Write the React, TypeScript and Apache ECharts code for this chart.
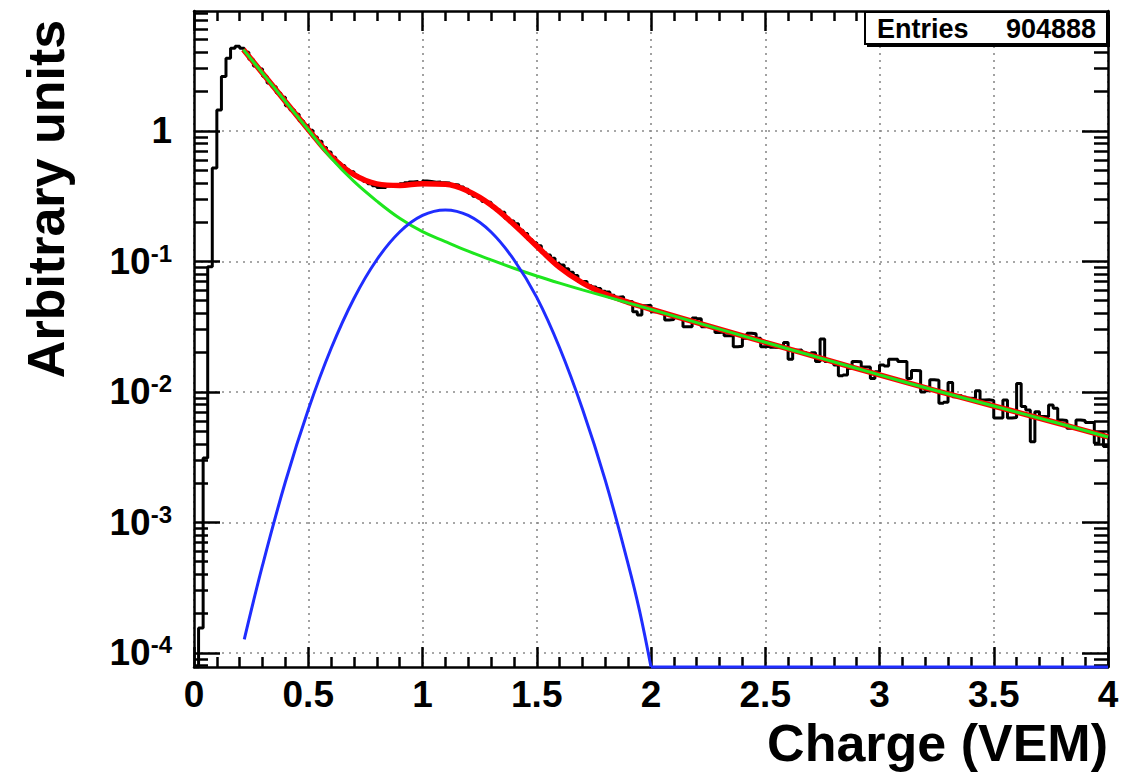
import React, { useEffect, useRef } from 'react';
import * as echarts from 'echarts';

// ---- axis ranges ----
const X_MIN = 0;
const X_MAX = 4;
const Y_MIN = 7.8e-5;
const Y_MAX = 8.3;
const BIN_WIDTH = 0.02;

// ---- histogram contents (200 bins of 0.02 VEM) ----
const HIST = [
  7.8e-5, 1.55e-4, 3.12e-3, 0.091, 0.52, 1.45, 2.61, 3.61, 4.30, 4.45,
  4.30, 4.01, 3.55, 3.14, 2.98, 2.63, 2.33, 2.18, 1.95, 1.81,
  1.56, 1.45, 1.34, 1.19, 1.10, 1.01, 0.899, 0.832, 0.745, 0.690,
  0.629, 0.571, 0.543, 0.502, 0.486, 0.454, 0.433, 0.412, 0.394, 0.380,
  0.369, 0.369, 0.378, 0.385, 0.389, 0.394, 0.401, 0.407, 0.409, 0.403,
  0.413, 0.409, 0.405, 0.407, 0.400, 0.399, 0.388, 0.386, 0.372, 0.357,
  0.333, 0.316, 0.307, 0.288, 0.284, 0.262, 0.248, 0.238, 0.214, 0.204,
  0.194, 0.173, 0.164, 0.147, 0.139, 0.132, 0.117, 0.112, 0.106, 0.0966,
  0.0940, 0.0877, 0.0828, 0.0780, 0.0702, 0.0702, 0.0650, 0.0638, 0.0621, 0.0590,
  0.0582, 0.0550, 0.0531, 0.0537, 0.0495, 0.0490, 0.0412, 0.0389, 0.0457, 0.0462,
  0.0412, 0.0417, 0.0407, 0.0356, 0.0359, 0.0378, 0.0372, 0.0316, 0.0316, 0.0369,
  0.0363, 0.0316, 0.0320, 0.0313, 0.0285, 0.0288, 0.0269, 0.0269, 0.0222, 0.0224,
  0.0258, 0.0282, 0.0279, 0.0258, 0.0222, 0.0224, 0.0220, 0.0219, 0.0221, 0.0239,
  0.0178, 0.0209, 0.0210, 0.0200, 0.0197, 0.0200, 0.0171, 0.0254, 0.0171, 0.0170,
  0.0161, 0.0133, 0.0135, 0.0152, 0.0171, 0.0170, 0.0155, 0.0155, 0.0127, 0.0143,
  0.0161, 0.0158, 0.0178, 0.0178, 0.0171, 0.0171, 0.0127, 0.0146, 0.0145, 0.0100,
  0.0102, 0.0124, 0.0123, 0.00818, 0.00832, 0.0118, 0.00920, 0.00933, 0.00912, 0.00895,
  0.00891, 0.0102, 0.00869, 0.00871, 0.00861, 0.00631, 0.00631, 0.00869, 0.00631, 0.00638,
  0.0116, 0.00773, 0.00728, 0.00416, 0.00706, 0.00647, 0.00646, 0.00794, 0.00750, 0.00610,
  0.00603, 0.00527, 0.00525, 0.00610, 0.00603, 0.00582, 0.00582, 0.00405, 0.00482, 0.00381,
];

// ---- background fit (green) ----
const GREEN_X = [0.216, 0.3, 0.4, 0.5, 0.6, 0.7, 0.8, 0.9, 1.0, 1.1, 1.2, 1.3, 1.4, 1.5, 1.6, 1.7, 1.8, 1.9, 2.0, 2.25, 2.5, 2.75, 3.0, 3.25, 3.5, 3.75, 4.0];
const GREEN_Y = [4.2, 2.77, 1.68, 1.02, 0.62, 0.41, 0.29, 0.214, 0.169, 0.142, 0.120, 0.1028, 0.0887, 0.0774, 0.0682, 0.0605, 0.0540, 0.0481, 0.0429, 0.0321, 0.0240, 0.0180, 0.0135, 0.0102, 0.0078, 0.00596, 0.00452];

// ---- total fit (red) ----
const RED_X = [0.216, 0.3, 0.4, 0.5, 0.6, 0.7, 0.8, 0.9, 1.0, 1.1, 1.2, 1.3, 1.4, 1.5, 1.6, 1.7, 1.8, 1.9, 2.0, 2.25, 2.5, 2.75, 3.0, 3.25, 3.5, 3.75, 4.0];
const RED_Y = [4.2, 2.77, 1.682, 1.027, 0.641, 0.462, 0.393, 0.382, 0.394, 0.390, 0.345, 0.271, 0.192, 0.131, 0.090, 0.0685, 0.0562, 0.0486, 0.0430, 0.0321, 0.0240, 0.0180, 0.0135, 0.0102, 0.0078, 0.00596, 0.00452];

// ---- muon peak (blue) ----
const BLUE_X = [0.22, 0.3, 0.4, 0.5, 0.6, 0.7, 0.8, 0.9, 1.0, 1.1, 1.2, 1.3, 1.4, 1.5, 1.6, 1.7, 1.8, 1.9, 1.95, 2.0];
const BLUE_Y = [1.27e-4, 4.7e-4, 2.05e-3, 7.3e-3, 0.0215, 0.052, 0.103, 0.168, 0.225, 0.248, 0.225, 0.168, 0.103, 0.053, 0.0218, 0.0074, 2.1e-3, 4.8e-4, 2.1e-4, 7.8e-5];
const BLUE_FLOOR_X = [2.0, 4.0];
const BLUE_FLOOR_Y = [7.8e-5, 7.8e-5];

const Y_MAJOR = [1e-4, 1e-3, 1e-2, 1e-1, 1];
const ENTRIES_LABEL = 'Entries';
const ENTRIES_VALUE = '904888';
const X_TITLE = 'Charge (VEM)';
const Y_TITLE = 'Arbitrary units';

const FONT = '"Liberation Sans", Arial, Helvetica, sans-serif';

function yMinorValues(): number[] {
  const out: number[] = [];
  for (let e = -5; e <= 0; e++) {
    for (let m = 2; m <= 9; m++) {
      const v = m * Math.pow(10, e);
      if (v > Y_MIN && v < Y_MAX) out.push(v);
    }
  }
  return out;
}

export default function App() {
  const ref = useRef<HTMLDivElement>(null);

  useEffect(() => {
    if (!ref.current) return;
    const chart = echarts.init(ref.current, undefined, { renderer: 'svg' });

    const histData: number[][] = HIST.map((v, i) => [X_MIN + i * BIN_WIDTH, v]);
    histData.push([X_MAX, HIST[HIST.length - 1]]);

    const pairs = (xs: number[], ys: number[]) => xs.map((x, i) => [x, ys[i]]);

    const gridLine = { show: true, lineStyle: { color: '#8a8a8a', width: 1.6, type: [2, 5] as any } };
    const minor = yMinorValues();

    const baseX = {
      type: 'value' as const,
      min: X_MIN,
      max: X_MAX,
      interval: 0.5,
      axisLine: { show: true, onZero: false, lineStyle: { color: '#000', width: 2.5 } },
      axisTick: { show: true, inside: true, length: 20, lineStyle: { color: '#000', width: 2.5 } },
      minorTick: { show: true, splitNumber: 5, length: 10, lineStyle: { color: '#000', width: 2.5 } },
    };

    const baseY = {
      type: 'log' as const,
      logBase: 10,
      min: Y_MIN,
      max: Y_MAX,
    };

    chart.setOption({
      animation: false,
      backgroundColor: '#ffffff',
      grid: { left: 194, top: 11, width: 914, height: 656, containLabel: false },
      xAxis: [
        {
          ...baseX,
          position: 'bottom',
          axisLabel: {
            show: true,
            margin: 9,
            color: '#000',
            fontFamily: FONT,
            fontWeight: 'bold',
            fontSize: 37,
            formatter: (v: number) => String(v),
          },
          splitLine: gridLine,
        },
        {
          ...baseX,
          position: 'top',
          axisLabel: { show: false },
          splitLine: { show: false },
        },
      ],
      yAxis: [
        {
          ...baseY,
          position: 'left',
          axisLine: { show: true, lineStyle: { color: '#000', width: 2.5 } },
          axisTick: { show: true, inside: true, length: 26, customValues: Y_MAJOR, lineStyle: { color: '#000', width: 2.5 } },
          axisLabel: {
            show: true,
            customValues: Y_MAJOR,
            margin: 22,
            color: '#000',
            fontFamily: FONT,
            fontWeight: 'bold',
            fontSize: 37,
            formatter: (v: number) => {
              const e = Math.round(Math.log10(v));
              return e === 0 ? '{base|1}' : `{base|10}{sup|${e}}`;
            },
            rich: {
              base: { fontFamily: FONT, fontWeight: 'bold', fontSize: 37, lineHeight: 40, color: '#000' },
              sup: { fontFamily: FONT, fontWeight: 'bold', fontSize: 24, lineHeight: 24, verticalAlign: 'top', color: '#000' },
            },
          },
          splitLine: gridLine,
        },
        {
          ...baseY,
          position: 'left',
          axisLine: { show: false },
          axisTick: { show: true, inside: true, length: 14, customValues: minor, lineStyle: { color: '#000', width: 2.5 } },
          axisLabel: { show: false },
          splitLine: { show: false },
        },
        {
          ...baseY,
          position: 'right',
          axisLine: { show: true, lineStyle: { color: '#000', width: 2.5 } },
          axisTick: { show: true, inside: true, length: 26, customValues: Y_MAJOR, lineStyle: { color: '#000', width: 2.5 } },
          axisLabel: { show: false },
          splitLine: { show: false },
        },
        {
          ...baseY,
          position: 'right',
          axisLine: { show: false },
          axisTick: { show: true, inside: true, length: 14, customValues: minor, lineStyle: { color: '#000', width: 2.5 } },
          axisLabel: { show: false },
          splitLine: { show: false },
        },
      ],
      series: [
        {
          name: 'histogram',
          type: 'line',
          step: 'end',
          data: histData,
          xAxisIndex: 0,
          yAxisIndex: 0,
          symbol: 'none',
          lineStyle: { color: '#000', width: 3 },
          z: 2,
        },
        {
          name: 'total fit',
          type: 'line',
          smooth: 0.4,
          data: pairs(RED_X, RED_Y),
          symbol: 'none',
          lineStyle: { color: '#ff0000', width: 5.5 },
          z: 3,
        },
        {
          name: 'background',
          type: 'line',
          smooth: 0.4,
          data: pairs(GREEN_X, GREEN_Y),
          symbol: 'none',
          lineStyle: { color: '#1ee61e', width: 3 },
          z: 4,
        },
        {
          name: 'muon peak',
          type: 'line',
          smooth: 0.4,
          data: pairs(BLUE_X, BLUE_Y),
          symbol: 'none',
          lineStyle: { color: '#1f2dff', width: 3 },
          z: 5,
        },
        {
          name: 'muon peak floor',
          type: 'line',
          clip: false,
          data: pairs(BLUE_FLOOR_X, BLUE_FLOOR_Y),
          symbol: 'none',
          lineStyle: { color: '#1f2dff', width: 3 },
          z: 5,
        },
      ],
      graphic: [
        {
          type: 'text',
          x: 46,
          y: 199,
          rotation: Math.PI / 2,
          style: {
            text: Y_TITLE,
            font: `bold 52px ${FONT}`,
            fill: '#000',
            textAlign: 'center',
            textVerticalAlign: 'middle',
          },
        },
        {
          type: 'text',
          x: 1108,
          y: 743,
          style: {
            text: X_TITLE,
            font: `bold 52px ${FONT}`,
            fill: '#000',
            textAlign: 'right',
            textVerticalAlign: 'middle',
          },
        },
        {
          type: 'rect',
          shape: { x: 867, y: 15, width: 243, height: 32 },
          style: { fill: '#000' },
          z: 100,
        },
        {
          type: 'rect',
          shape: { x: 865, y: 12, width: 242, height: 32 },
          style: { fill: '#fff', stroke: '#000', lineWidth: 2 },
          z: 101,
        },
        {
          type: 'text',
          x: 877,
          y: 29,
          z: 102,
          style: { text: ENTRIES_LABEL, font: `bold 27px ${FONT}`, fill: '#000', textAlign: 'left', textVerticalAlign: 'middle' },
        },
        {
          type: 'text',
          x: 1096,
          y: 29,
          z: 102,
          style: { text: ENTRIES_VALUE, font: `bold 27px ${FONT}`, fill: '#000', textAlign: 'right', textVerticalAlign: 'middle' },
        },
      ],
    });

    return () => chart.dispose();
  }, []);

  return (
    <div
      ref={ref}
      style={{ position: 'absolute', left: 0, top: 0, width: 1130, height: 775, background: '#fff' }}
    />
  );
}
